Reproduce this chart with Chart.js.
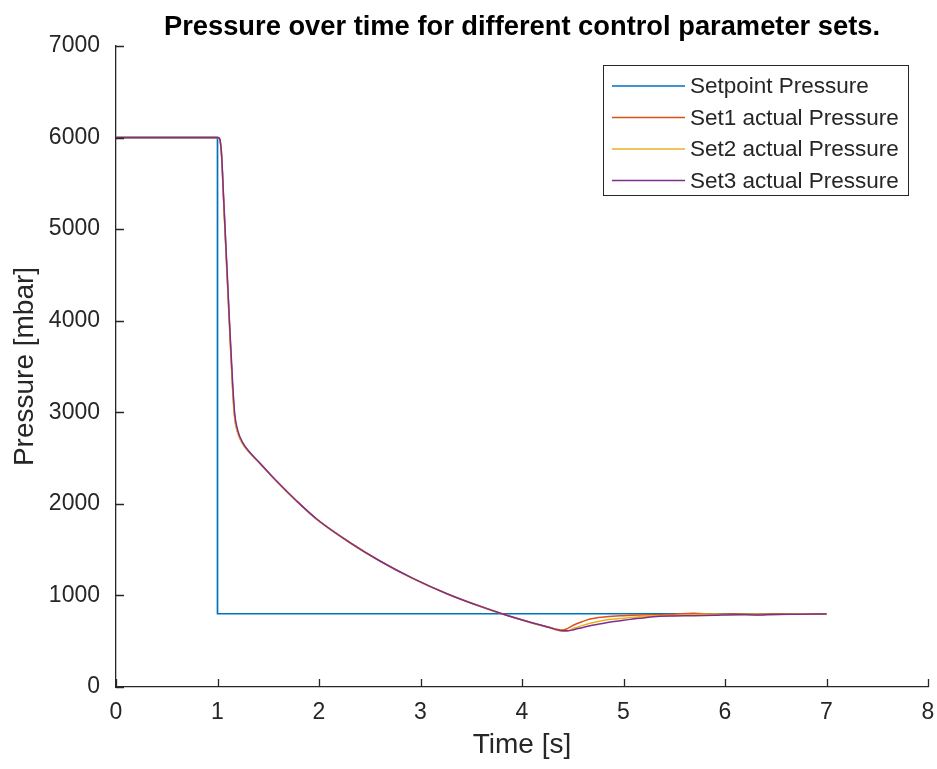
<!DOCTYPE html>
<html>
<head>
<meta charset="utf-8">
<script src="https://cdn.jsdelivr.net/npm/chart.js@4.4.1/dist/chart.umd.min.js"></script>
<style>
body{margin:0;background:#fff}
</style>
</head>
<body>
<canvas id="myChart" width="937" height="769"></canvas>
<script>
// setpoint step
var setpoint_t = [0, 1.0, 1.0, 7.0]
var setpoint_p = [6000, 6000, 800, 800]

var time = [0, 1.00, 1.02, 1.04, 1.06, 1.09, 1.12, 1.15, 1.17, 1.20, 1.25, 1.32, 1.42, 1.58, 1.78, 1.98,
    2.30, 2.60, 2.93, 3.26, 3.59, 3.81, 4.08, 4.25, 4.40, 4.45, 4.51, 4.59, 4.67, 4.75, 4.83,
    5.00, 5.16, 5.36, 5.50, 5.69, 5.90, 6.10, 6.30, 6.50, 6.75, 7.00]
var set1_p = [6000, 6000, 5985, 5800, 5320, 4600, 3900, 3250, 2940, 2780, 2655, 2555, 2440, 2250, 2030, 1830,
    1582, 1378, 1184, 1020, 881, 798, 708, 658, 622, 640, 677, 712, 742, 758, 768,
    779, 786, 790, 795, 806, 792, 799, 790, 801, 794, 798]
var set2_p = [6000, 6000, 5988, 5810, 5330, 4620, 3920, 3220, 2920, 2770, 2650, 2552, 2438, 2248, 2028, 1828,
    1578, 1374, 1181, 1018, 879, 796, 705, 654, 610, 612, 641, 670, 696, 716, 732,
    752, 768, 778, 782, 790, 796, 790, 798, 793, 800, 796]
var set3_p = [6000, 6000, 5990, 5820, 5350, 4650, 3950, 3300, 2980, 2800, 2665, 2560, 2442, 2252, 2032, 1832,
    1580, 1376, 1183, 1019, 880, 797, 707, 656, 614, 613, 626, 648, 670, 686, 702,
    728, 750, 772, 776, 779, 784, 790, 787, 793, 795, 797]

var labels = ['Setpoint Pressure', 'Set1 actual Pressure', 'Set2 actual Pressure', 'Set3 actual Pressure']
var colors = ['#0072BD', '#D95319', '#EDB120', '#7E2F8E']

var x_min = 0, x_max = 8, x_step = 1
var y_min = 0, y_max = 7000, y_step = 1000

var axisColor = '#262626'
Chart.defaults.font.family = '"Liberation Sans", Arial, sans-serif'
Chart.defaults.color = axisColor

function toPoints(t, p){
    var out = []
    for(var i = 0 ; i < t.length ; i++){
        out.push({x: t[i], y: p[i]})
    }
    return out
}

// title centred over the axes
var titlePlugin = {
    id: 'axesTitle',
    afterDraw(chart){
        var ctx = chart.ctx, a = chart.chartArea
        ctx.save()
        ctx.font = 'bold 27.3px "Liberation Sans", Arial, sans-serif'
        ctx.fillStyle = '#000'
        ctx.textAlign = 'center'
        ctx.textBaseline = 'middle'
        ctx.fillText('Pressure over time for different control parameter sets.', (a.left + a.right) / 2, 27)
        ctx.restore()
    }
}

// matlab style ticks pointing inside
var innerTicks = {
    id: 'innerTicks',
    afterDraw(chart){
        var ctx = chart.ctx, a = chart.chartArea
        var xs = chart.scales.x, ys = chart.scales.y
        ctx.save()
        ctx.strokeStyle = axisColor
        ctx.lineWidth = 1.3
        ctx.beginPath()
        xs.ticks.forEach(function(t){
            var px = Math.round(xs.getPixelForValue(t.value)) + 0.5
            ctx.moveTo(px, a.bottom)
            ctx.lineTo(px, a.bottom - 8)
        })
        ys.ticks.forEach(function(t){
            var py = Math.round(ys.getPixelForValue(t.value)) + 0.5
            ctx.moveTo(a.left, py)
            ctx.lineTo(a.left + 8, py)
        })
        ctx.stroke()
        ctx.restore()
    }
}

// legend box in the upper right of the axes
var legendBox = {
    id: 'legendBox',
    afterDraw(chart){
        var ctx = chart.ctx
        var bx = 603, by = 65, bw = 305, bh = 130
        ctx.save()
        ctx.fillStyle = '#fff'
        ctx.fillRect(bx, by, bw, bh)
        ctx.strokeStyle = axisColor
        ctx.lineWidth = 1
        ctx.strokeRect(bx + 0.5, by + 0.5, bw, bh)
        ctx.font = '22.5px "Liberation Sans", Arial, sans-serif'
        ctx.textBaseline = 'middle'
        ctx.textAlign = 'left'
        chart.data.datasets.forEach(function(ds, i){
            var y = by + 21 + i * 31.5
            ctx.strokeStyle = ds.borderColor
            ctx.lineWidth = 1.5
            ctx.beginPath()
            ctx.moveTo(bx + 9, y)
            ctx.lineTo(bx + 82, y)
            ctx.stroke()
            ctx.fillStyle = axisColor
            ctx.fillText(ds.label, bx + 87, y + 1)
        })
        ctx.restore()
    }
}

var ctx = document.getElementById('myChart').getContext('2d')
var chart = new Chart(ctx, {
    type: 'line',
    plugins: [titlePlugin, innerTicks, legendBox],
    data: {
        datasets: [{
            label: labels[0],
            data: toPoints(setpoint_t, setpoint_p),
            borderColor: colors[0],
            borderWidth: 1.7,
            tension: 0,
            order: 4
        }, {
            label: labels[1],
            data: toPoints(time, set1_p),
            borderColor: colors[1],
            borderWidth: 1.5,
            cubicInterpolationMode: 'monotone',
            order: 3
        }, {
            label: labels[2],
            data: toPoints(time, set2_p),
            borderColor: colors[2],
            borderWidth: 1.5,
            cubicInterpolationMode: 'monotone',
            order: 2
        }, {
            label: labels[3],
            data: toPoints(time, set3_p),
            borderColor: colors[3],
            borderWidth: 1.5,
            cubicInterpolationMode: 'monotone',
            order: 1
        }]
    },
    options: {
        responsive: false,
        animation: false,
        elements: {
            point: {radius: 0}
        },
        layout: {
            padding: {left: 0, right: 9, top: 46, bottom: 0}
        },
        scales: {
            x: {
                type: 'linear',
                min: x_min,
                max: x_max,
                ticks: {
                    stepSize: x_step,
                    padding: 12,
                    maxRotation: 0,
                    color: axisColor,
                    font: {size: 23}
                },
                grid: {
                    drawOnChartArea: false,
                    drawTicks: false
                },
                border: {color: axisColor, width: 1.3},
                title: {
                    display: true,
                    text: 'Time [s]',
                    color: axisColor,
                    font: {size: 28, lineHeight: 1},
                    padding: {top: 0, bottom: 10}
                },
                afterFit: function(scale){
                    scale.height = 82
                    scale.paddingLeft = 0
                    scale.paddingRight = 0
                }
            },
            y: {
                min: y_min,
                max: y_max,
                ticks: {
                    stepSize: y_step,
                    padding: 16,
                    color: axisColor,
                    font: {size: 23},
                    callback: function(v){ return String(v) }
                },
                grid: {
                    drawOnChartArea: false,
                    drawTicks: false
                },
                border: {color: axisColor, width: 1.3},
                title: {
                    display: true,
                    text: 'Pressure [mbar]',
                    color: axisColor,
                    font: {size: 28, lineHeight: 1},
                    padding: {top: 11, bottom: 0}
                },
                afterFit: function(scale){
                    scale.width = 116
                    scale.paddingTop = 0
                    scale.paddingBottom = 0
                }
            }
        },
        plugins: {
            legend: {display: false},
            tooltip: {enabled: false}
        }
    }
})
</script>
</body>
</html>
